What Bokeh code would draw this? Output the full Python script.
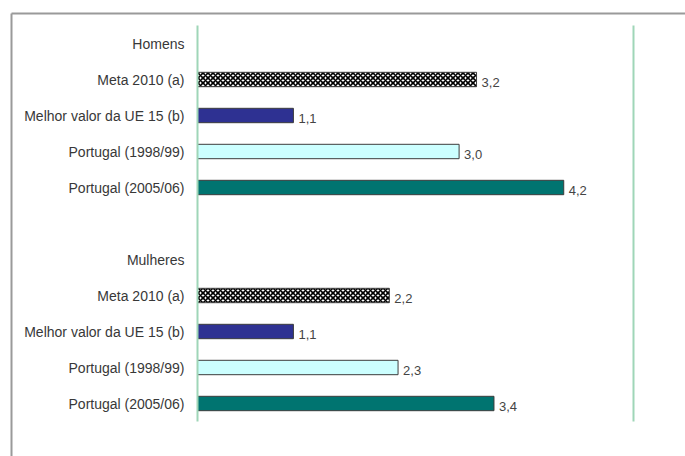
from bokeh.plotting import figure
from bokeh.models import ColumnDataSource, Range1d, FixedTicker, LinearAxis
from bokeh.core.properties import value
from bokeh.embed import file_html
from bokeh.resources import INLINE

groups = ["Homens", "Mulheres"]
series = ["Meta 2010 (a)", "Melhor valor da UE 15 (b)",
          "Portugal (1998/99)", "Portugal (2005/06)"]
homens = [3.2, 1.1, 3.0, 4.2]
mulheres = [2.2, 1.1, 2.3, 3.4]
values_by_group = [homens, mulheres]
x_max = 5

series_colors = ["white", "#2e3192", "#ccffff", "#007470"]
series_checker = [True, False, False, False]

FONT = "Liberation Sans"
W, H = 685, 456
FRAME_L, FRAME_T = 11, 13          # outer grey frame
AX_L, AX_R = 197, 633              # green lines (x = 0 and x = x_max)
BAND_T, BAND_B = 25, 421           # vertical extent of the bar area

slots_per_group = len(series) + 2
n_slots = len(groups) * slots_per_group - 1

px_x = (AX_R - AX_L) / x_max
px_y = (BAND_B - BAND_T) / n_slots
x_start = -(AX_L - FRAME_L) / px_x
x_end = x_max + (W - AX_R) / px_x
y_top = -0.5 - (BAND_T - FRAME_T) / px_y
y_bot = n_slots - 0.5 + (H - BAND_B) / px_y

p = figure(width=W, height=H, output_backend="svg", toolbar_location=None,
           x_range=Range1d(x_start, x_end), y_range=Range1d(y_bot, y_top),
           x_axis_location=None, y_axis_location=None,
           min_border_left=FRAME_L, min_border_right=0,
           min_border_top=FRAME_T, min_border_bottom=0)
p.xgrid.visible = False
p.ygrid.visible = False
p.outline_line_color = None
p.background_fill_color = "white"
p.border_fill_color = "white"


def frame_axis(ax):
    ax.ticker = FixedTicker(ticks=[])
    ax.major_tick_line_color = None
    ax.minor_tick_line_color = None
    ax.major_tick_out = 0
    ax.major_label_standoff = 0
    ax.major_label_text_font_size = "0px"
    ax.axis_line_color = "#9a9a9a"
    ax.axis_line_width = 2
    return ax


p.add_layout(frame_axis(LinearAxis()), "left")
p.add_layout(frame_axis(LinearAxis()), "above")

ticks = []
labels = {}
for g, gname in enumerate(groups):
    base = g * slots_per_group
    ticks.append(base)
    labels[base] = gname
    for i, sname in enumerate(series):
        ticks.append(base + 1 + i)
        labels[base + 1 + i] = sname

for i, sname in enumerate(series):
    ys = [g * slots_per_group + 1 + i for g in range(len(groups))]
    vals = [values_by_group[g][i] for g in range(len(groups))]
    txt = [f"{v:.1f}".replace(".", ",") for v in vals]
    src = ColumnDataSource(dict(y=ys, v=vals, t=txt))
    kw = {}
    if series_checker[i]:
        kw = dict(hatch_pattern="diagonal_cross", hatch_color="black",
                  hatch_scale=5, hatch_weight=1.6)
    p.hbar(y="y", right="v", left=0, height=0.4, source=src,
           fill_color=series_colors[i], line_color="#3c3c3c", line_width=1, **kw)
    p.text(x="v", y="y", text="t", source=src, x_offset=5, y_offset=3,
           text_baseline="middle", text_align="left",
           text_font=value(FONT), text_font_size="13px", text_color="#444444")

ax = LinearAxis(fixed_location=0, bounds=(-0.5, n_slots - 0.5))
ax.ticker = FixedTicker(ticks=ticks)
ax.major_label_overrides = labels
ax.major_tick_line_color = None
ax.minor_tick_line_color = None
ax.major_tick_out = 0
ax.axis_line_color = "#9fd6b8"
ax.axis_line_width = 2
ax.major_label_standoff = 13
ax.major_label_text_font = FONT
ax.major_label_text_font_size = "14px"
ax.major_label_text_color = "#383838"
p.add_layout(ax, "left")

ax2 = LinearAxis(fixed_location=x_max, bounds=(-0.5, n_slots - 0.5))
ax2.ticker = FixedTicker(ticks=[])
ax2.major_tick_line_color = None
ax2.minor_tick_line_color = None
ax2.major_label_text_font_size = "0px"
ax2.axis_line_color = "#9fd6b8"
ax2.axis_line_width = 2
p.add_layout(ax2, "right")

open("out.html", "w").write(file_html(p, INLINE))
